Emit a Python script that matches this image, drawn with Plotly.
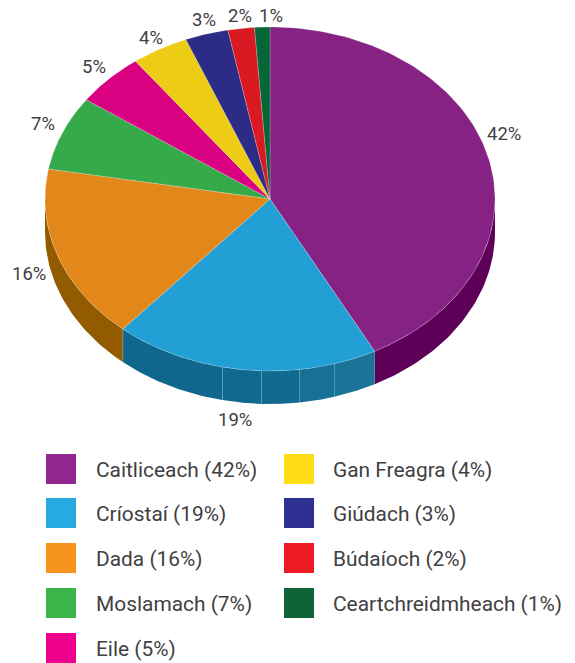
import numpy as np
import plotly.graph_objects as go

categories = ["Caitliceach", "Críostaí", "Dada", "Moslamach", "Eile", "Gan Freagra", "Giúdach", "Búdaíoch", "Ceartchreidmheach"]
values = [42.3, 19.05, 16.45, 7.0, 5.0, 4.1, 3.1, 1.9, 1.1]
pct_labels = ["42%", "19%", "16%", "7%", "5%", "4%", "3%", "2%", "1%"]
top_colors = ["#862283", "#229fd4", "#e2881b", "#36a94a", "#d90082", "#eccc14", "#2c2c86", "#da1a22", "#056637"]
legend_colors = ["#92278f", "#27aae1", "#f7941d", "#39b54a", "#ec008c", "#ffde17", "#2e3192", "#ed1c24", "#0f6437"]
side_colors = ["#5e0058", "#10698f", "#925b00"]
blue_seams_pct = [45.4, 47.9, 50.6, 53.4, 61.35]
blue_facets = ["#1a7499", "#177095", "#106a91", "#10698f", "#0f678e"]

W, H = 575, 663
CX, CY, RX, RY, DEPTH = 270, 199, 225, 172, 33
TEXT = "#414042"
FONT = "Roboto"
label_pos = [(504, 134), (235, 420), (28.5, 274), (43, 124), (94, 67), (151, 38), (204, 20), (240, 16), (271, 16)]
leg_rows = [469.5, 513.5, 558.5, 603.5, 648.5]
square_rows = [469, 513, 558, 603, 648]


def pt(pct, dz=0.0):
    a = np.asarray(pct) / 100 * 2 * np.pi
    return CX + RX * np.sin(a), CY - RY * np.cos(a) + dz


def wall(fig, p0, p1, color, seam=False):
    ps = np.linspace(p0, p1, 60)
    xt, yt = pt(ps)
    xb, yb = pt(ps, DEPTH)
    fig.add_trace(go.Scatter(x=np.r_[xt, xb[::-1], xt[0]], y=np.r_[yt, yb[::-1], yt[0]], mode="lines",
                             fill="toself", fillcolor=color, line=dict(width=0), hoverinfo="skip"))
    if seam:
        fig.add_trace(go.Scatter(x=[xt[-1], xb[-1]], y=[yt[-1], yb[-1]], mode="lines",
                                 line=dict(color="rgba(255,255,255,0.35)", width=1), hoverinfo="skip"))


fig = go.Figure()
cum = np.r_[0, np.cumsum(values)]
cum = cum / cum[-1] * 100

# Side walls (only the front half of the ellipse is visible)
wall(fig, 25, cum[1], side_colors[0])
b0 = cum[1]
for b1, c in zip(blue_seams_pct, blue_facets):
    wall(fig, b0, b1, c, seam=True)
    b0 = b1
wall(fig, b0, 75, side_colors[2])

# Top face
for i, c in enumerate(top_colors):
    ps = np.linspace(cum[i], cum[i + 1], 120)
    x, y = pt(ps)
    fig.add_trace(go.Scatter(x=np.r_[CX, x, CX], y=np.r_[CY, y, CY], mode="lines", fill="toself", fillcolor=c,
                             line=dict(color="rgba(255,255,255,0.35)", width=0.6), name=categories[i],
                             hoverinfo="name"))

# Legend squares
leg_x = [61] * 5 + [299] * 4
fig.add_trace(go.Scatter(x=leg_x, y=square_rows + square_rows[:4], mode="markers", hoverinfo="skip",
                         marker=dict(symbol="square", size=30, color=legend_colors, line=dict(width=0))))

annotations = []
leg_y = leg_rows + leg_rows[:4]
for (x, y), t in zip(label_pos, pct_labels):
    annotations.append(dict(x=x, y=y, text=t, showarrow=False, font=dict(family=FONT, size=18.5, color=TEXT)))
for i, cat in enumerate(categories):
    annotations.append(dict(x=94 if i < 5 else 331, y=leg_y[i], text=f"{cat} ({pct_labels[i]})", showarrow=False,
                            xanchor="left", font=dict(family=FONT, size=20.9, color=TEXT)))

fig.update_layout(width=W, height=H, margin=dict(l=0, r=0, t=0, b=0), showlegend=False,
                  paper_bgcolor="white", plot_bgcolor="white", annotations=annotations,
                  xaxis=dict(range=[0, W], visible=False, fixedrange=True),
                  yaxis=dict(range=[H, 0], visible=False, fixedrange=True))
fig.write_html("out.html", config={"displayModeBar": False},
               post_script="document.body.style.margin='0';document.documentElement.style.overflow='hidden';")
